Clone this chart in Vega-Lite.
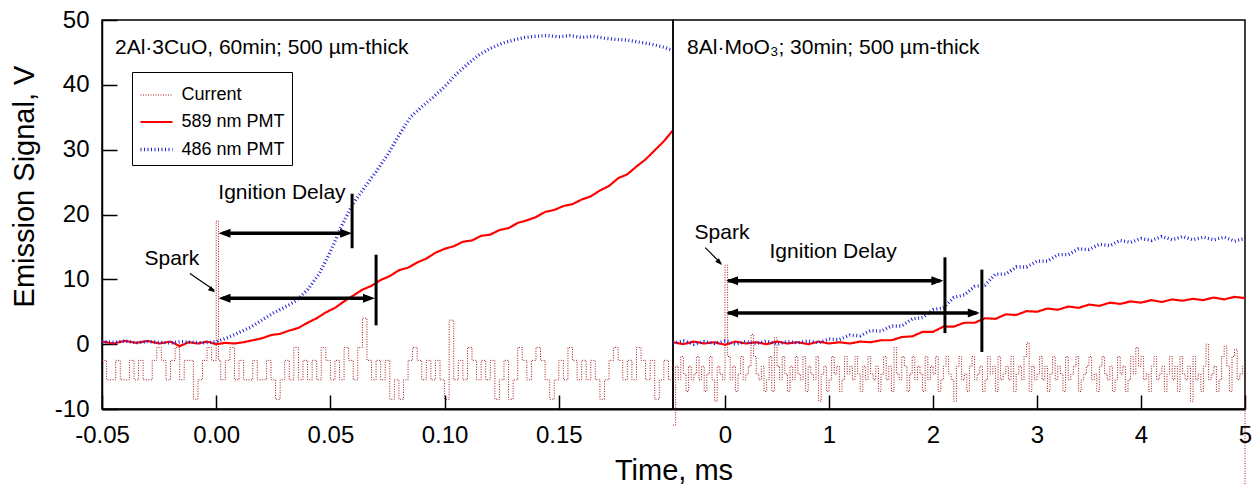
{
"$schema": "https://vega.github.io/schema/vega-lite/v6.json",
"autosize": {"type": "none"},
"padding": {"left": 102, "top": 20, "right": 1151, "bottom": 465},
"bounds": "flush",
"spacing": 0,
"background": "white",
"config": {
 "view": {"stroke": "black", "strokeWidth": 1.5},
 "font": "Liberation Sans",
 "axis": {"grid": false, "domainColor": "black", "domainWidth": 1.5, "tickColor": "black", "tickWidth": 1.5, "labelColor": "black", "titleColor": "black", "titleFontWeight": "normal", "labelFontSize": 24, "titleFontSize": 29, "labelFont": "Liberation Sans", "titleFont": "Liberation Sans", "labelOverlap": false, "labelFlush": false},
 "text": {"font": "Liberation Sans", "fontSize": 21, "color": "black"}
},
"datasets": {
"L": [
{"s":"C","t":-0.05,"v":-2.5},{"s":"C","t":-0.048,"v":-5.5},{"s":"C","t":-0.046,"v":-5.5},{"s":"C","t":-0.044,"v":-2.5},{"s":"C","t":-0.042,"v":-5.5},{"s":"C","t":-0.04,"v":-5.5},{"s":"C","t":-0.038,"v":-2.5},{"s":"C","t":-0.036,"v":-5.5},{"s":"C","t":-0.034,"v":-2.5},{"s":"C","t":-0.032,"v":-5.5},{"s":"C","t":-0.03,"v":-5.5},{"s":"C","t":-0.028,"v":-2.5},{"s":"C","t":-0.026,"v":-0.5},{"s":"C","t":-0.024,"v":-2.5},{"s":"C","t":-0.022,"v":-5.5},{"s":"C","t":-0.02,"v":-2.5},{"s":"C","t":-0.018,"v":-0.5},{"s":"C","t":-0.016,"v":-5.5},{"s":"C","t":-0.014,"v":-2.5},{"s":"C","t":-0.012,"v":-2.5},{"s":"C","t":-0.01,"v":-8.5},{"s":"C","t":-0.008,"v":-5.5},{"s":"C","t":-0.006,"v":-2.5},{"s":"C","t":-0.004,"v":-0.5},{"s":"C","t":-0.002,"v":-2.5},{"s":"C","t":0,"v":19},{"s":"C","t":0.001,"v":-2.5},{"s":"C","t":0.002,"v":-5.5},{"s":"C","t":0.004,"v":-2.5},{"s":"C","t":0.006,"v":-0.5},{"s":"C","t":0.008,"v":-5.5},{"s":"C","t":0.01,"v":-2.5},{"s":"C","t":0.012,"v":-5.5},{"s":"C","t":0.014,"v":-5.5},{"s":"C","t":0.016,"v":-2.5},{"s":"C","t":0.018,"v":-5.5},{"s":"C","t":0.02,"v":-5.5},{"s":"C","t":0.022,"v":-2.5},{"s":"C","t":0.024,"v":-5.5},{"s":"C","t":0.026,"v":-8.5},{"s":"C","t":0.028,"v":-5.5},{"s":"C","t":0.03,"v":-2.5},{"s":"C","t":0.032,"v":-5.5},{"s":"C","t":0.034,"v":-0.5},{"s":"C","t":0.036,"v":-5.5},{"s":"C","t":0.038,"v":-2.5},{"s":"C","t":0.04,"v":-5.5},{"s":"C","t":0.042,"v":-2.5},{"s":"C","t":0.044,"v":-5.5},{"s":"C","t":0.046,"v":-0.5},{"s":"C","t":0.048,"v":-2.5},{"s":"C","t":0.05,"v":-5.5},{"s":"C","t":0.052,"v":-2.5},{"s":"C","t":0.054,"v":-5.5},{"s":"C","t":0.056,"v":-0.5},{"s":"C","t":0.058,"v":-2.5},{"s":"C","t":0.06,"v":-5.5},{"s":"C","t":0.062,"v":-0.5},{"s":"C","t":0.064,"v":4},{"s":"C","t":0.066,"v":-2.5},{"s":"C","t":0.068,"v":-5.5},{"s":"C","t":0.07,"v":-2.5},{"s":"C","t":0.072,"v":-5.5},{"s":"C","t":0.074,"v":-2.5},{"s":"C","t":0.076,"v":-8.5},{"s":"C","t":0.078,"v":-5.5},{"s":"C","t":0.08,"v":-8.5},{"s":"C","t":0.082,"v":-5.5},{"s":"C","t":0.084,"v":-2.5},{"s":"C","t":0.086,"v":-0.5},{"s":"C","t":0.088,"v":-2.5},{"s":"C","t":0.09,"v":-5.5},{"s":"C","t":0.092,"v":-2.5},{"s":"C","t":0.094,"v":-5.5},{"s":"C","t":0.096,"v":-2.5},{"s":"C","t":0.098,"v":-5.5},{"s":"C","t":0.1,"v":-8.5},{"s":"C","t":0.102,"v":3.7},{"s":"C","t":0.104,"v":-5.5},{"s":"C","t":0.106,"v":-2.5},{"s":"C","t":0.108,"v":-5.5},{"s":"C","t":0.11,"v":-0.5},{"s":"C","t":0.112,"v":-2.5},{"s":"C","t":0.114,"v":-5.5},{"s":"C","t":0.116,"v":-2.5},{"s":"C","t":0.118,"v":-5.5},{"s":"C","t":0.12,"v":-2.5},{"s":"C","t":0.122,"v":-8.5},{"s":"C","t":0.124,"v":-5.5},{"s":"C","t":0.126,"v":-2.5},{"s":"C","t":0.128,"v":-8.5},{"s":"C","t":0.13,"v":-5.5},{"s":"C","t":0.132,"v":-0.5},{"s":"C","t":0.134,"v":-2.5},{"s":"C","t":0.136,"v":-5.5},{"s":"C","t":0.138,"v":-2.5},{"s":"C","t":0.14,"v":-0.5},{"s":"C","t":0.142,"v":-2.5},{"s":"C","t":0.144,"v":-5.5},{"s":"C","t":0.146,"v":-8.5},{"s":"C","t":0.148,"v":-5.5},{"s":"C","t":0.15,"v":-2.5},{"s":"C","t":0.152,"v":-5.5},{"s":"C","t":0.154,"v":-0.5},{"s":"C","t":0.156,"v":-2.5},{"s":"C","t":0.158,"v":-5.5},{"s":"C","t":0.16,"v":-2.5},{"s":"C","t":0.162,"v":-5.5},{"s":"C","t":0.164,"v":-2.5},{"s":"C","t":0.166,"v":-5.5},{"s":"C","t":0.168,"v":-8.5},{"s":"C","t":0.17,"v":-5.5},{"s":"C","t":0.172,"v":-2.5},{"s":"C","t":0.174,"v":-0.5},{"s":"C","t":0.176,"v":-2.5},{"s":"C","t":0.178,"v":-5.5},{"s":"C","t":0.18,"v":-2.5},{"s":"C","t":0.182,"v":-5.5},{"s":"C","t":0.184,"v":-0.5},{"s":"C","t":0.186,"v":-2.5},{"s":"C","t":0.188,"v":-5.5},{"s":"C","t":0.19,"v":-2.5},{"s":"C","t":0.192,"v":-8.5},{"s":"C","t":0.194,"v":-5.5},{"s":"C","t":0.196,"v":-2.5},{"s":"C","t":0.198,"v":-5.5},{"s":"C","t":0.2,"v":-2.5},
{"s":"R","t":-0.05,"v":0.4},{"s":"R","t":-0.045,"v":0.1},{"s":"R","t":-0.04,"v":0.5},{"s":"R","t":-0.035,"v":0.2},{"s":"R","t":-0.03,"v":0.5},{"s":"R","t":-0.025,"v":0.1},{"s":"R","t":-0.02,"v":0.4},{"s":"R","t":-0.016,"v":-0.3},{"s":"R","t":-0.012,"v":0.3},{"s":"R","t":-0.008,"v":0.1},{"s":"R","t":-0.004,"v":0.4},{"s":"R","t":0,"v":0.0},{"s":"R","t":0.004,"v":0.2},{"s":"R","t":0.008,"v":0.1},{"s":"R","t":0.012,"v":0.3},{"s":"R","t":0.016,"v":0.6},{"s":"R","t":0.02,"v":0.9},{"s":"R","t":0.024,"v":1.4},{"s":"R","t":0.028,"v":1.6},{"s":"R","t":0.032,"v":2.1},{"s":"R","t":0.036,"v":2.5},{"s":"R","t":0.04,"v":3.3},{"s":"R","t":0.044,"v":4.0},{"s":"R","t":0.048,"v":4.9},{"s":"R","t":0.052,"v":5.6},{"s":"R","t":0.056,"v":6.6},{"s":"R","t":0.06,"v":7.5},{"s":"R","t":0.064,"v":8.4},{"s":"R","t":0.068,"v":9.0},{"s":"R","t":0.072,"v":9.9},{"s":"R","t":0.076,"v":10.5},{"s":"R","t":0.08,"v":11.4},{"s":"R","t":0.084,"v":11.8},{"s":"R","t":0.088,"v":12.6},{"s":"R","t":0.092,"v":13.2},{"s":"R","t":0.096,"v":14.1},{"s":"R","t":0.1,"v":14.7},{"s":"R","t":0.104,"v":15.1},{"s":"R","t":0.108,"v":15.8},{"s":"R","t":0.112,"v":16.0},{"s":"R","t":0.116,"v":16.7},{"s":"R","t":0.12,"v":16.9},{"s":"R","t":0.124,"v":17.6},{"s":"R","t":0.128,"v":17.9},{"s":"R","t":0.132,"v":18.7},{"s":"R","t":0.136,"v":19.1},{"s":"R","t":0.14,"v":19.6},{"s":"R","t":0.144,"v":20.4},{"s":"R","t":0.148,"v":20.7},{"s":"R","t":0.152,"v":21.3},{"s":"R","t":0.156,"v":21.6},{"s":"R","t":0.16,"v":22.3},{"s":"R","t":0.164,"v":22.8},{"s":"R","t":0.168,"v":23.7},{"s":"R","t":0.172,"v":24.4},{"s":"R","t":0.176,"v":25.6},{"s":"R","t":0.18,"v":26.2},{"s":"R","t":0.184,"v":27.4},{"s":"R","t":0.188,"v":28.5},{"s":"R","t":0.192,"v":29.9},{"s":"R","t":0.196,"v":31.3},{"s":"R","t":0.2,"v":33.0},
{"s":"B","t":-0.05,"v":0.4},{"s":"B","t":-0.045,"v":0.3},{"s":"B","t":-0.04,"v":0.5},{"s":"B","t":-0.035,"v":0.2},{"s":"B","t":-0.03,"v":0.4},{"s":"B","t":-0.025,"v":0.3},{"s":"B","t":-0.02,"v":0.2},{"s":"B","t":-0.015,"v":0.4},{"s":"B","t":-0.01,"v":0.3},{"s":"B","t":-0.005,"v":0.2},{"s":"B","t":0,"v":0.4},{"s":"B","t":0.005,"v":1.0},{"s":"B","t":0.01,"v":1.8},{"s":"B","t":0.015,"v":2.6},{"s":"B","t":0.02,"v":3.7},{"s":"B","t":0.025,"v":4.8},{"s":"B","t":0.03,"v":5.7},{"s":"B","t":0.035,"v":6.7},{"s":"B","t":0.04,"v":8.4},{"s":"B","t":0.045,"v":10.8},{"s":"B","t":0.05,"v":14.3},{"s":"B","t":0.055,"v":18.3},{"s":"B","t":0.06,"v":21.7},{"s":"B","t":0.065,"v":24.2},{"s":"B","t":0.07,"v":26.6},{"s":"B","t":0.075,"v":29.2},{"s":"B","t":0.08,"v":32.2},{"s":"B","t":0.085,"v":35.0},{"s":"B","t":0.09,"v":36.6},{"s":"B","t":0.095,"v":38.1},{"s":"B","t":0.1,"v":39.7},{"s":"B","t":0.105,"v":41.6},{"s":"B","t":0.11,"v":43.2},{"s":"B","t":0.115,"v":44.6},{"s":"B","t":0.12,"v":45.6},{"s":"B","t":0.125,"v":46.4},{"s":"B","t":0.13,"v":46.9},{"s":"B","t":0.135,"v":47.3},{"s":"B","t":0.14,"v":47.5},{"s":"B","t":0.145,"v":47.6},{"s":"B","t":0.15,"v":47.4},{"s":"B","t":0.155,"v":47.6},{"s":"B","t":0.16,"v":47.3},{"s":"B","t":0.165,"v":47.5},{"s":"B","t":0.17,"v":47.2},{"s":"B","t":0.175,"v":47.0},{"s":"B","t":0.18,"v":46.9},{"s":"B","t":0.185,"v":46.6},{"s":"B","t":0.19,"v":46.3},{"s":"B","t":0.195,"v":45.9},{"s":"B","t":0.2,"v":45.3}
],
"R": [
{"s":"C","t":-0.5,"v":-12.5},{"s":"C","t":-0.475,"v":-3.4},{"s":"C","t":-0.45,"v":-5.5},{"s":"C","t":-0.425,"v":-1.9},{"s":"C","t":-0.4,"v":-4.6},{"s":"C","t":-0.375,"v":-7.3},{"s":"C","t":-0.35,"v":-3.4},{"s":"C","t":-0.325,"v":-5.5},{"s":"C","t":-0.3,"v":-4.6},{"s":"C","t":-0.275,"v":-1.9},{"s":"C","t":-0.25,"v":-5.5},{"s":"C","t":-0.225,"v":-3.4},{"s":"C","t":-0.2,"v":-7.3},{"s":"C","t":-0.175,"v":-4.6},{"s":"C","t":-0.15,"v":-1.9},{"s":"C","t":-0.125,"v":-5.5},{"s":"C","t":-0.1,"v":-8.8},{"s":"C","t":-0.075,"v":-3.4},{"s":"C","t":-0.05,"v":-4.6},{"s":"C","t":-0.025,"v":-5.5},{"s":"C","t":0,"v":12.2},{"s":"C","t":0.025,"v":-1.9},{"s":"C","t":0.05,"v":-5.5},{"s":"C","t":0.075,"v":-3.4},{"s":"C","t":0.1,"v":-7.3},{"s":"C","t":0.125,"v":-4.6},{"s":"C","t":0.15,"v":-1.9},{"s":"C","t":0.175,"v":-5.5},{"s":"C","t":0.2,"v":-4.6},{"s":"C","t":0.225,"v":-3.4},{"s":"C","t":0.25,"v":1.5},{"s":"C","t":0.275,"v":-1.9},{"s":"C","t":0.3,"v":-4.6},{"s":"C","t":0.325,"v":-5.5},{"s":"C","t":0.35,"v":-3.4},{"s":"C","t":0.375,"v":-7.3},{"s":"C","t":0.4,"v":-5.5},{"s":"C","t":0.425,"v":-1.9},{"s":"C","t":0.45,"v":-7.3},{"s":"C","t":0.475,"v":1.0},{"s":"C","t":0.5,"v":-3.4},{"s":"C","t":0.525,"v":-5.5},{"s":"C","t":0.55,"v":-1.9},{"s":"C","t":0.575,"v":-4.6},{"s":"C","t":0.6,"v":-7.3},{"s":"C","t":0.625,"v":-3.4},{"s":"C","t":0.65,"v":-5.5},{"s":"C","t":0.675,"v":-1.9},{"s":"C","t":0.7,"v":-4.6},{"s":"C","t":0.725,"v":-5.5},{"s":"C","t":0.75,"v":-1.9},{"s":"C","t":0.775,"v":-7.3},{"s":"C","t":0.8,"v":-3.4},{"s":"C","t":0.825,"v":-4.6},{"s":"C","t":0.85,"v":-5.5},{"s":"C","t":0.875,"v":-1.9},{"s":"C","t":0.9,"v":-8.8},{"s":"C","t":0.925,"v":-4.6},{"s":"C","t":0.95,"v":-3.4},{"s":"C","t":0.975,"v":-7.3},{"s":"C","t":1.0,"v":-5.5},{"s":"C","t":1.025,"v":-1.9},{"s":"C","t":1.05,"v":-4.6},{"s":"C","t":1.075,"v":-3.4},{"s":"C","t":1.1,"v":-7.3},{"s":"C","t":1.125,"v":-5.5},{"s":"C","t":1.15,"v":-1.9},{"s":"C","t":1.175,"v":-4.6},{"s":"C","t":1.2,"v":-3.4},{"s":"C","t":1.225,"v":-5.5},{"s":"C","t":1.25,"v":-1.9},{"s":"C","t":1.275,"v":-4.6},{"s":"C","t":1.3,"v":-7.3},{"s":"C","t":1.325,"v":-3.4},{"s":"C","t":1.35,"v":-5.5},{"s":"C","t":1.375,"v":-1.9},{"s":"C","t":1.4,"v":-4.6},{"s":"C","t":1.425,"v":-5.5},{"s":"C","t":1.45,"v":-3.4},{"s":"C","t":1.475,"v":-7.3},{"s":"C","t":1.5,"v":-4.6},{"s":"C","t":1.525,"v":-1.9},{"s":"C","t":1.55,"v":-5.5},{"s":"C","t":1.575,"v":-3.4},{"s":"C","t":1.6,"v":-7.3},{"s":"C","t":1.625,"v":-0.5},{"s":"C","t":1.65,"v":-4.6},{"s":"C","t":1.675,"v":-5.5},{"s":"C","t":1.7,"v":-1.9},{"s":"C","t":1.725,"v":-3.4},{"s":"C","t":1.75,"v":-7.3},{"s":"C","t":1.775,"v":-4.6},{"s":"C","t":1.8,"v":-1.9},{"s":"C","t":1.825,"v":-5.5},{"s":"C","t":1.85,"v":-3.4},{"s":"C","t":1.875,"v":-4.6},{"s":"C","t":1.9,"v":-7.3},{"s":"C","t":1.925,"v":-1.9},{"s":"C","t":1.95,"v":-5.5},{"s":"C","t":1.975,"v":-3.4},{"s":"C","t":2.0,"v":-4.6},{"s":"C","t":2.025,"v":-1.9},{"s":"C","t":2.05,"v":-7.3},{"s":"C","t":2.075,"v":-5.5},{"s":"C","t":2.1,"v":-3.4},{"s":"C","t":2.125,"v":-1.9},{"s":"C","t":2.15,"v":-4.6},{"s":"C","t":2.175,"v":-5.5},{"s":"C","t":2.2,"v":-8.8},{"s":"C","t":2.225,"v":-3.4},{"s":"C","t":2.25,"v":-1.9},{"s":"C","t":2.275,"v":-5.5},{"s":"C","t":2.3,"v":-4.6},{"s":"C","t":2.325,"v":-7.3},{"s":"C","t":2.35,"v":-3.4},{"s":"C","t":2.375,"v":-1.9},{"s":"C","t":2.4,"v":-5.5},{"s":"C","t":2.425,"v":-4.6},{"s":"C","t":2.45,"v":-3.4},{"s":"C","t":2.475,"v":-7.3},{"s":"C","t":2.5,"v":-5.5},{"s":"C","t":2.525,"v":-1.9},{"s":"C","t":2.55,"v":-4.6},{"s":"C","t":2.575,"v":-3.4},{"s":"C","t":2.6,"v":-7.3},{"s":"C","t":2.625,"v":-1.9},{"s":"C","t":2.65,"v":-5.5},{"s":"C","t":2.675,"v":-4.6},{"s":"C","t":2.7,"v":-3.4},{"s":"C","t":2.725,"v":-5.5},{"s":"C","t":2.75,"v":-1.9},{"s":"C","t":2.775,"v":-7.3},{"s":"C","t":2.8,"v":-4.6},{"s":"C","t":2.825,"v":-3.4},{"s":"C","t":2.85,"v":-5.5},{"s":"C","t":2.875,"v":-1.9},{"s":"C","t":2.9,"v":0.2},{"s":"C","t":2.925,"v":-7.3},{"s":"C","t":2.95,"v":-3.4},{"s":"C","t":2.975,"v":-5.5},{"s":"C","t":3.0,"v":-4.6},{"s":"C","t":3.025,"v":-1.9},{"s":"C","t":3.05,"v":-5.5},{"s":"C","t":3.075,"v":-3.4},{"s":"C","t":3.1,"v":-7.3},{"s":"C","t":3.125,"v":-4.6},{"s":"C","t":3.15,"v":-1.9},{"s":"C","t":3.175,"v":-5.5},{"s":"C","t":3.2,"v":-3.4},{"s":"C","t":3.225,"v":-4.6},{"s":"C","t":3.25,"v":-7.3},{"s":"C","t":3.275,"v":-1.9},{"s":"C","t":3.3,"v":-5.5},{"s":"C","t":3.325,"v":-4.6},{"s":"C","t":3.35,"v":-3.4},{"s":"C","t":3.375,"v":-1.9},{"s":"C","t":3.4,"v":-7.3},{"s":"C","t":3.425,"v":-5.5},{"s":"C","t":3.45,"v":-4.6},{"s":"C","t":3.475,"v":-3.4},{"s":"C","t":3.5,"v":-1.9},{"s":"C","t":3.525,"v":-5.5},{"s":"C","t":3.55,"v":-4.6},{"s":"C","t":3.575,"v":-7.3},{"s":"C","t":3.6,"v":-3.4},{"s":"C","t":3.625,"v":-1.9},{"s":"C","t":3.65,"v":-4.6},{"s":"C","t":3.675,"v":-5.5},{"s":"C","t":3.7,"v":-3.4},{"s":"C","t":3.725,"v":-7.3},{"s":"C","t":3.75,"v":-5.5},{"s":"C","t":3.775,"v":-1.9},{"s":"C","t":3.8,"v":-4.6},{"s":"C","t":3.825,"v":-3.4},{"s":"C","t":3.85,"v":-7.3},{"s":"C","t":3.875,"v":-5.5},{"s":"C","t":3.9,"v":-1.9},{"s":"C","t":3.925,"v":-4.6},{"s":"C","t":3.95,"v":-0.5},{"s":"C","t":3.975,"v":-3.4},{"s":"C","t":4.0,"v":-1.9},{"s":"C","t":4.025,"v":-5.5},{"s":"C","t":4.05,"v":-4.6},{"s":"C","t":4.075,"v":-7.3},{"s":"C","t":4.1,"v":-3.4},{"s":"C","t":4.125,"v":-1.9},{"s":"C","t":4.15,"v":-5.5},{"s":"C","t":4.175,"v":-4.6},{"s":"C","t":4.2,"v":-3.4},{"s":"C","t":4.225,"v":-7.3},{"s":"C","t":4.25,"v":-4.6},{"s":"C","t":4.275,"v":-1.9},{"s":"C","t":4.3,"v":-5.5},{"s":"C","t":4.325,"v":-3.4},{"s":"C","t":4.35,"v":-7.3},{"s":"C","t":4.375,"v":-1.9},{"s":"C","t":4.4,"v":-4.6},{"s":"C","t":4.425,"v":-5.5},{"s":"C","t":4.45,"v":-3.4},{"s":"C","t":4.475,"v":-8.8},{"s":"C","t":4.5,"v":-1.9},{"s":"C","t":4.525,"v":-5.5},{"s":"C","t":4.55,"v":-4.6},{"s":"C","t":4.575,"v":-7.3},{"s":"C","t":4.6,"v":-3.4},{"s":"C","t":4.625,"v":0.0},{"s":"C","t":4.65,"v":-5.5},{"s":"C","t":4.675,"v":-4.6},{"s":"C","t":4.7,"v":-3.4},{"s":"C","t":4.725,"v":-7.3},{"s":"C","t":4.75,"v":-5.5},{"s":"C","t":4.775,"v":-1.9},{"s":"C","t":4.8,"v":-0.3},{"s":"C","t":4.825,"v":-3.4},{"s":"C","t":4.85,"v":-7.3},{"s":"C","t":4.875,"v":-1.9},{"s":"C","t":4.9,"v":-0.8},{"s":"C","t":4.925,"v":-5.5},{"s":"C","t":4.95,"v":-4.6},{"s":"C","t":4.975,"v":-3.4},{"s":"C","t":5.0,"v":-22},
{"s":"R","t":-0.5,"v":0.3},{"s":"R","t":-0.4,"v":0.0},{"s":"R","t":-0.3,"v":0.4},{"s":"R","t":-0.2,"v":0.1},{"s":"R","t":-0.1,"v":0.3},{"s":"R","t":0,"v":-0.1},{"s":"R","t":0.1,"v":0.4},{"s":"R","t":0.2,"v":0.1},{"s":"R","t":0.3,"v":0.3},{"s":"R","t":0.4,"v":0.0},{"s":"R","t":0.5,"v":0.4},{"s":"R","t":0.6,"v":0.1},{"s":"R","t":0.7,"v":0.3},{"s":"R","t":0.8,"v":0.0},{"s":"R","t":0.9,"v":0.4},{"s":"R","t":1.0,"v":0.1},{"s":"R","t":1.1,"v":0.3},{"s":"R","t":1.2,"v":0.1},{"s":"R","t":1.3,"v":0.4},{"s":"R","t":1.4,"v":0.3},{"s":"R","t":1.5,"v":0.6},{"s":"R","t":1.6,"v":0.6},{"s":"R","t":1.7,"v":1.1},{"s":"R","t":1.8,"v":1.2},{"s":"R","t":1.9,"v":1.9},{"s":"R","t":2.0,"v":1.9},{"s":"R","t":2.1,"v":2.7},{"s":"R","t":2.2,"v":2.7},{"s":"R","t":2.3,"v":3.3},{"s":"R","t":2.4,"v":3.3},{"s":"R","t":2.5,"v":4.0},{"s":"R","t":2.6,"v":3.9},{"s":"R","t":2.7,"v":4.6},{"s":"R","t":2.8,"v":4.5},{"s":"R","t":2.9,"v":5.1},{"s":"R","t":3.0,"v":5.0},{"s":"R","t":3.1,"v":5.5},{"s":"R","t":3.2,"v":5.3},{"s":"R","t":3.3,"v":5.8},{"s":"R","t":3.4,"v":5.6},{"s":"R","t":3.5,"v":6.1},{"s":"R","t":3.6,"v":5.9},{"s":"R","t":3.7,"v":6.4},{"s":"R","t":3.8,"v":6.2},{"s":"R","t":3.9,"v":6.6},{"s":"R","t":4.0,"v":6.4},{"s":"R","t":4.1,"v":6.8},{"s":"R","t":4.2,"v":6.5},{"s":"R","t":4.3,"v":6.9},{"s":"R","t":4.4,"v":6.7},{"s":"R","t":4.5,"v":7.0},{"s":"R","t":4.6,"v":6.8},{"s":"R","t":4.7,"v":7.2},{"s":"R","t":4.8,"v":6.9},{"s":"R","t":4.9,"v":7.3},{"s":"R","t":5.0,"v":7.1},
{"s":"B","t":-0.5,"v":0.2},{"s":"B","t":-0.4,"v":0.5},{"s":"B","t":-0.3,"v":0.0},{"s":"B","t":-0.2,"v":0.4},{"s":"B","t":-0.1,"v":0.1},{"s":"B","t":0,"v":0.5},{"s":"B","t":0.1,"v":0.0},{"s":"B","t":0.2,"v":0.4},{"s":"B","t":0.3,"v":0.1},{"s":"B","t":0.4,"v":0.5},{"s":"B","t":0.5,"v":0.0},{"s":"B","t":0.6,"v":0.4},{"s":"B","t":0.7,"v":0.2},{"s":"B","t":0.8,"v":0.5},{"s":"B","t":0.9,"v":0.2},{"s":"B","t":1.0,"v":0.8},{"s":"B","t":1.1,"v":0.7},{"s":"B","t":1.2,"v":1.4},{"s":"B","t":1.3,"v":1.3},{"s":"B","t":1.4,"v":2.1},{"s":"B","t":1.5,"v":2.0},{"s":"B","t":1.6,"v":2.8},{"s":"B","t":1.7,"v":2.8},{"s":"B","t":1.8,"v":3.9},{"s":"B","t":1.9,"v":4.1},{"s":"B","t":2.0,"v":5.3},{"s":"B","t":2.1,"v":5.6},{"s":"B","t":2.2,"v":7.2},{"s":"B","t":2.3,"v":7.6},{"s":"B","t":2.4,"v":8.9},{"s":"B","t":2.5,"v":9.1},{"s":"B","t":2.6,"v":10.8},{"s":"B","t":2.7,"v":10.8},{"s":"B","t":2.8,"v":11.9},{"s":"B","t":2.9,"v":11.9},{"s":"B","t":3.0,"v":12.8},{"s":"B","t":3.1,"v":12.8},{"s":"B","t":3.2,"v":13.8},{"s":"B","t":3.3,"v":13.8},{"s":"B","t":3.4,"v":14.7},{"s":"B","t":3.5,"v":14.6},{"s":"B","t":3.6,"v":15.4},{"s":"B","t":3.7,"v":15.2},{"s":"B","t":3.8,"v":16.0},{"s":"B","t":3.9,"v":15.7},{"s":"B","t":4.0,"v":16.3},{"s":"B","t":4.1,"v":16.0},{"s":"B","t":4.2,"v":16.6},{"s":"B","t":4.3,"v":16.1},{"s":"B","t":4.4,"v":16.6},{"s":"B","t":4.5,"v":16.1},{"s":"B","t":4.6,"v":16.5},{"s":"B","t":4.7,"v":16.1},{"s":"B","t":4.8,"v":16.5},{"s":"B","t":4.9,"v":15.9},{"s":"B","t":5.0,"v":16.3}
]
},
"hconcat": [
{
 "width": 571, "height": 389,
 "layer": [
  {"data": {"name": "L"}, "transform": [{"filter": "datum.s=='C'"}],
   "mark": {"type": "line", "interpolate": "step-after"},
   "encoding": {
    "x": {"field": "t", "type": "quantitative", "scale": {"domain": [-0.05, 0.2], "nice": false, "zero": false},
          "axis": {"values": [-0.05, 0, 0.05, 0.1, 0.15], "labelExpr": "replace(format(datum.value,'.2f'),'\u2212','-')", "tickSize": -14, "labelPadding": 28, "domainWidth": 2, "title": "Time, ms", "titleX": 571.5, "titleY": 70, "titleBaseline": "alphabetic", "titleAlign": "center"}},
    "y": {"field": "v", "type": "quantitative", "scale": {"domain": [-10, 50], "nice": false, "zero": false},
          "axis": {"values": [-10, 0, 10, 20, 30, 40, 50], "labelExpr": "replace(format(datum.value,'d'),'\u2212','-')", "tickSize": -15, "labelPadding": 28, "title": "Emission Signal, V", "titleX": -78, "titleY": 166, "titleBaseline": "middle", "titleAlign": "center", "titleAngle": -90}},
    "color": {"field": "s", "type": "nominal", "scale": {"domain": ["C", "R", "B"], "range": ["#a01818", "#ff0000", "#2020d0"]}, "legend": {"orient": "none", "legendX": 30, "legendY": 52, "title": null, "strokeColor": "black", "fillColor": "white", "padding": 6.5, "symbolType": "stroke", "symbolSize": 1024, "rowPadding": -8, "labelFontSize": 18, "labelOffset": 7, "labelFont": "Liberation Sans", "labelColor": "black", "labelExpr": "datum.label=='C'?'Current':datum.label=='R'?'589 nm PMT':'486 nm PMT'"}},
    "strokeDash": {"field": "s", "type": "nominal", "scale": {"domain": ["C", "R", "B"], "range": [[1, 1.5], [1, 0], [1, 2.5]]}, "legend": {"orient": "none", "legendX": 30, "legendY": 52, "title": null, "strokeColor": "black", "fillColor": "white", "padding": 6.5, "symbolType": "stroke", "symbolSize": 1024, "rowPadding": -8, "labelFontSize": 18, "labelOffset": 7, "labelFont": "Liberation Sans", "labelColor": "black", "labelExpr": "datum.label=='C'?'Current':datum.label=='R'?'589 nm PMT':'486 nm PMT'"}},
    "strokeWidth": {"field": "s", "type": "nominal", "scale": {"domain": ["C", "R", "B"], "range": [1, 3.3, 1.1]}, "legend": {"orient": "none", "legendX": 30, "legendY": 52, "title": null, "strokeColor": "black", "fillColor": "white", "padding": 6.5, "symbolType": "stroke", "symbolSize": 1024, "rowPadding": -8, "labelFontSize": 18, "labelOffset": 7, "labelFont": "Liberation Sans", "labelColor": "black", "labelExpr": "datum.label=='C'?'Current':datum.label=='R'?'589 nm PMT':'486 nm PMT'"}}
   }},
  {"data": {"name": "L"}, "transform": [{"filter": "datum.s=='R'"}],
   "mark": {"type": "line"},
   "encoding": {
    "x": {"field": "t", "type": "quantitative"},
    "y": {"field": "v", "type": "quantitative"},
    "color": {"field": "s", "type": "nominal"},
    "strokeDash": {"field": "s", "type": "nominal"},
    "strokeWidth": {"field": "s", "type": "nominal"}
   }},
  {"data": {"name": "L"}, "transform": [{"filter": "datum.s=='B'"}],
   "mark": {"type": "line"},
   "encoding": {
    "x": {"field": "t", "type": "quantitative"},
    "y": {"field": "v", "type": "quantitative"},
    "color": {"field": "s", "type": "nominal"},
    "strokeDash": {"field": "s", "type": "nominal"},
    "strokeWidth": {"field": "s", "type": "nominal"}
   }},
  {"data": {"values": [{}]}, "mark": {"type": "text", "align": "left", "baseline": "middle", "fontSize": 21},
   "encoding": {"x": {"datum": -0.0443}, "y": {"datum": 45.7}, "text": {"value": "2Al·3CuO, 60min; 500 µm-thick"}}},
  {"data": {"values": [{}]}, "mark": {"type": "text", "align": "center", "baseline": "middle", "fontSize": 21},
   "encoding": {"x": {"datum": -0.0194}, "y": {"datum": 13.2}, "text": {"value": "Spark"}}},
  {"data": {"values": [{}]}, "mark": {"type": "text", "align": "center", "baseline": "middle", "fontSize": 21},
   "encoding": {"x": {"datum": 0.0288}, "y": {"datum": 23.3}, "text": {"value": "Ignition Delay"}}},
  {"data": {"values": [{}]}, "mark": {"type": "rule", "strokeWidth": 1.2, "color": "black"},
   "encoding": {"x": {"datum": -0.0115}, "x2": {"datum": -0.0008}, "y": {"datum": 10.9}, "y2": {"datum": 8.3}}},
  {"data": {"values": [{}]}, "mark": {"type": "point", "shape": "M0,0L-2,-0.75L-2,0.75Z", "filled": true, "opacity": 1, "color": "black", "size": 49, "angle": 37},
   "encoding": {"x": {"datum": -0.0005}, "y": {"datum": 8.0}}},
  {"data": {"values": [{}]}, "mark": {"type": "rule", "strokeWidth": 3.5, "color": "black"},
   "encoding": {"x": {"datum": 0.003}, "x2": {"datum": 0.057}, "y": {"datum": 17.1}}},
  {"data": {"values": [{}]}, "mark": {"type": "point", "shape": "M0,0L2,-0.75L2,0.75Z", "filled": true, "opacity": 1, "color": "black", "size": 144},
   "encoding": {"x": {"datum": 0.001}, "y": {"datum": 17.1}}},
  {"data": {"values": [{}]}, "mark": {"type": "point", "shape": "M0,0L-2,-0.75L-2,0.75Z", "filled": true, "opacity": 1, "color": "black", "size": 144},
   "encoding": {"x": {"datum": 0.0595}, "y": {"datum": 17.1}}},
  {"data": {"values": [{}]}, "mark": {"type": "rule", "strokeWidth": 3, "color": "black"},
   "encoding": {"x": {"datum": 0.0595}, "y": {"datum": 14.8}, "y2": {"datum": 23.2}}},
  {"data": {"values": [{}]}, "mark": {"type": "rule", "strokeWidth": 3.5, "color": "black"},
   "encoding": {"x": {"datum": 0.003}, "x2": {"datum": 0.067}, "y": {"datum": 7.1}}},
  {"data": {"values": [{}]}, "mark": {"type": "point", "shape": "M0,0L2,-0.75L2,0.75Z", "filled": true, "opacity": 1, "color": "black", "size": 144},
   "encoding": {"x": {"datum": 0.001}, "y": {"datum": 7.1}}},
  {"data": {"values": [{}]}, "mark": {"type": "point", "shape": "M0,0L-2,-0.75L-2,0.75Z", "filled": true, "opacity": 1, "color": "black", "size": 144},
   "encoding": {"x": {"datum": 0.0695}, "y": {"datum": 7.1}}},
  {"data": {"values": [{}]}, "mark": {"type": "rule", "strokeWidth": 3, "color": "black"},
   "encoding": {"x": {"datum": 0.07}, "y": {"datum": 2.9}, "y2": {"datum": 13.8}}}
 ]
},
{
 "width": 572, "height": 389,
 "layer": [
  {"data": {"name": "R"}, "transform": [{"filter": "datum.s=='C'"}],
   "mark": {"type": "line", "interpolate": "step-after"},
   "encoding": {
    "x": {"field": "t", "type": "quantitative", "scale": {"domain": [-0.5, 5], "nice": false, "zero": false},
          "axis": {"values": [0, 1, 2, 3, 4, 5], "format": "d", "tickSize": -14, "labelPadding": 28, "domainWidth": 2, "title": null}},
    "y": {"field": "v", "type": "quantitative", "scale": {"domain": [-10, 50], "nice": false, "zero": false}, "axis": null},
    "color": {"field": "s", "type": "nominal"},
    "strokeDash": {"field": "s", "type": "nominal"},
    "strokeWidth": {"field": "s", "type": "nominal"}
   }},
  {"data": {"name": "R"}, "transform": [{"filter": "datum.s=='R'"}],
   "mark": {"type": "line"},
   "encoding": {
    "x": {"field": "t", "type": "quantitative"},
    "y": {"field": "v", "type": "quantitative"},
    "color": {"field": "s", "type": "nominal"},
    "strokeDash": {"field": "s", "type": "nominal"},
    "strokeWidth": {"field": "s", "type": "nominal"}
   }},
  {"data": {"name": "R"}, "transform": [{"filter": "datum.s=='B'"}],
   "mark": {"type": "line"},
   "encoding": {
    "x": {"field": "t", "type": "quantitative"},
    "y": {"field": "v", "type": "quantitative"},
    "color": {"field": "s", "type": "nominal"},
    "strokeDash": {"field": "s", "type": "nominal"},
    "strokeWidth": {"field": "s", "type": "nominal"}
   }},
  {"data": {"values": [{}]}, "mark": {"type": "text", "align": "left", "baseline": "middle", "fontSize": 21},
   "encoding": {"x": {"datum": -0.365}, "y": {"datum": 45.7}, "text": {"value": "8Al·MoO₃; 30min; 500 µm-thick"}}},
  {"data": {"values": [{}]}, "mark": {"type": "text", "align": "center", "baseline": "middle", "fontSize": 21},
   "encoding": {"x": {"datum": -0.029}, "y": {"datum": 17.2}, "text": {"value": "Spark"}}},
  {"data": {"values": [{}]}, "mark": {"type": "text", "align": "center", "baseline": "middle", "fontSize": 21},
   "encoding": {"x": {"datum": 1.04}, "y": {"datum": 14.2}, "text": {"value": "Ignition Delay"}}},
  {"data": {"values": [{}]}, "mark": {"type": "rule", "strokeWidth": 1.2, "color": "black"},
   "encoding": {"x": {"datum": -0.19}, "x2": {"datum": -0.035}, "y": {"datum": 14.9}, "y2": {"datum": 12.4}}},
  {"data": {"values": [{}]}, "mark": {"type": "point", "shape": "M0,0L-2,-0.75L-2,0.75Z", "filled": true, "opacity": 1, "color": "black", "size": 49, "angle": 47},
   "encoding": {"x": {"datum": -0.03}, "y": {"datum": 12.2}}},
  {"data": {"values": [{}]}, "mark": {"type": "rule", "strokeWidth": 3.5, "color": "black"},
   "encoding": {"x": {"datum": 0.03}, "x2": {"datum": 2.07}, "y": {"datum": 9.8}}},
  {"data": {"values": [{}]}, "mark": {"type": "point", "shape": "M0,0L2,-0.75L2,0.75Z", "filled": true, "opacity": 1, "color": "black", "size": 144},
   "encoding": {"x": {"datum": 0.01}, "y": {"datum": 9.8}}},
  {"data": {"values": [{}]}, "mark": {"type": "point", "shape": "M0,0L-2,-0.75L-2,0.75Z", "filled": true, "opacity": 1, "color": "black", "size": 144},
   "encoding": {"x": {"datum": 2.1}, "y": {"datum": 9.8}}},
  {"data": {"values": [{}]}, "mark": {"type": "rule", "strokeWidth": 3, "color": "black"},
   "encoding": {"x": {"datum": 2.115}, "y": {"datum": 1.7}, "y2": {"datum": 13.4}}},
  {"data": {"values": [{}]}, "mark": {"type": "rule", "strokeWidth": 3.5, "color": "black"},
   "encoding": {"x": {"datum": 0.03}, "x2": {"datum": 2.42}, "y": {"datum": 4.8}}},
  {"data": {"values": [{}]}, "mark": {"type": "point", "shape": "M0,0L2,-0.75L2,0.75Z", "filled": true, "opacity": 1, "color": "black", "size": 144},
   "encoding": {"x": {"datum": 0.01}, "y": {"datum": 4.8}}},
  {"data": {"values": [{}]}, "mark": {"type": "point", "shape": "M0,0L-2,-0.75L-2,0.75Z", "filled": true, "opacity": 1, "color": "black", "size": 144},
   "encoding": {"x": {"datum": 2.45}, "y": {"datum": 4.8}}},
  {"data": {"values": [{}]}, "mark": {"type": "rule", "strokeWidth": 3, "color": "black"},
   "encoding": {"x": {"datum": 2.47}, "y": {"datum": -1.2}, "y2": {"datum": 11.5}}}
 ]
}
]
}
